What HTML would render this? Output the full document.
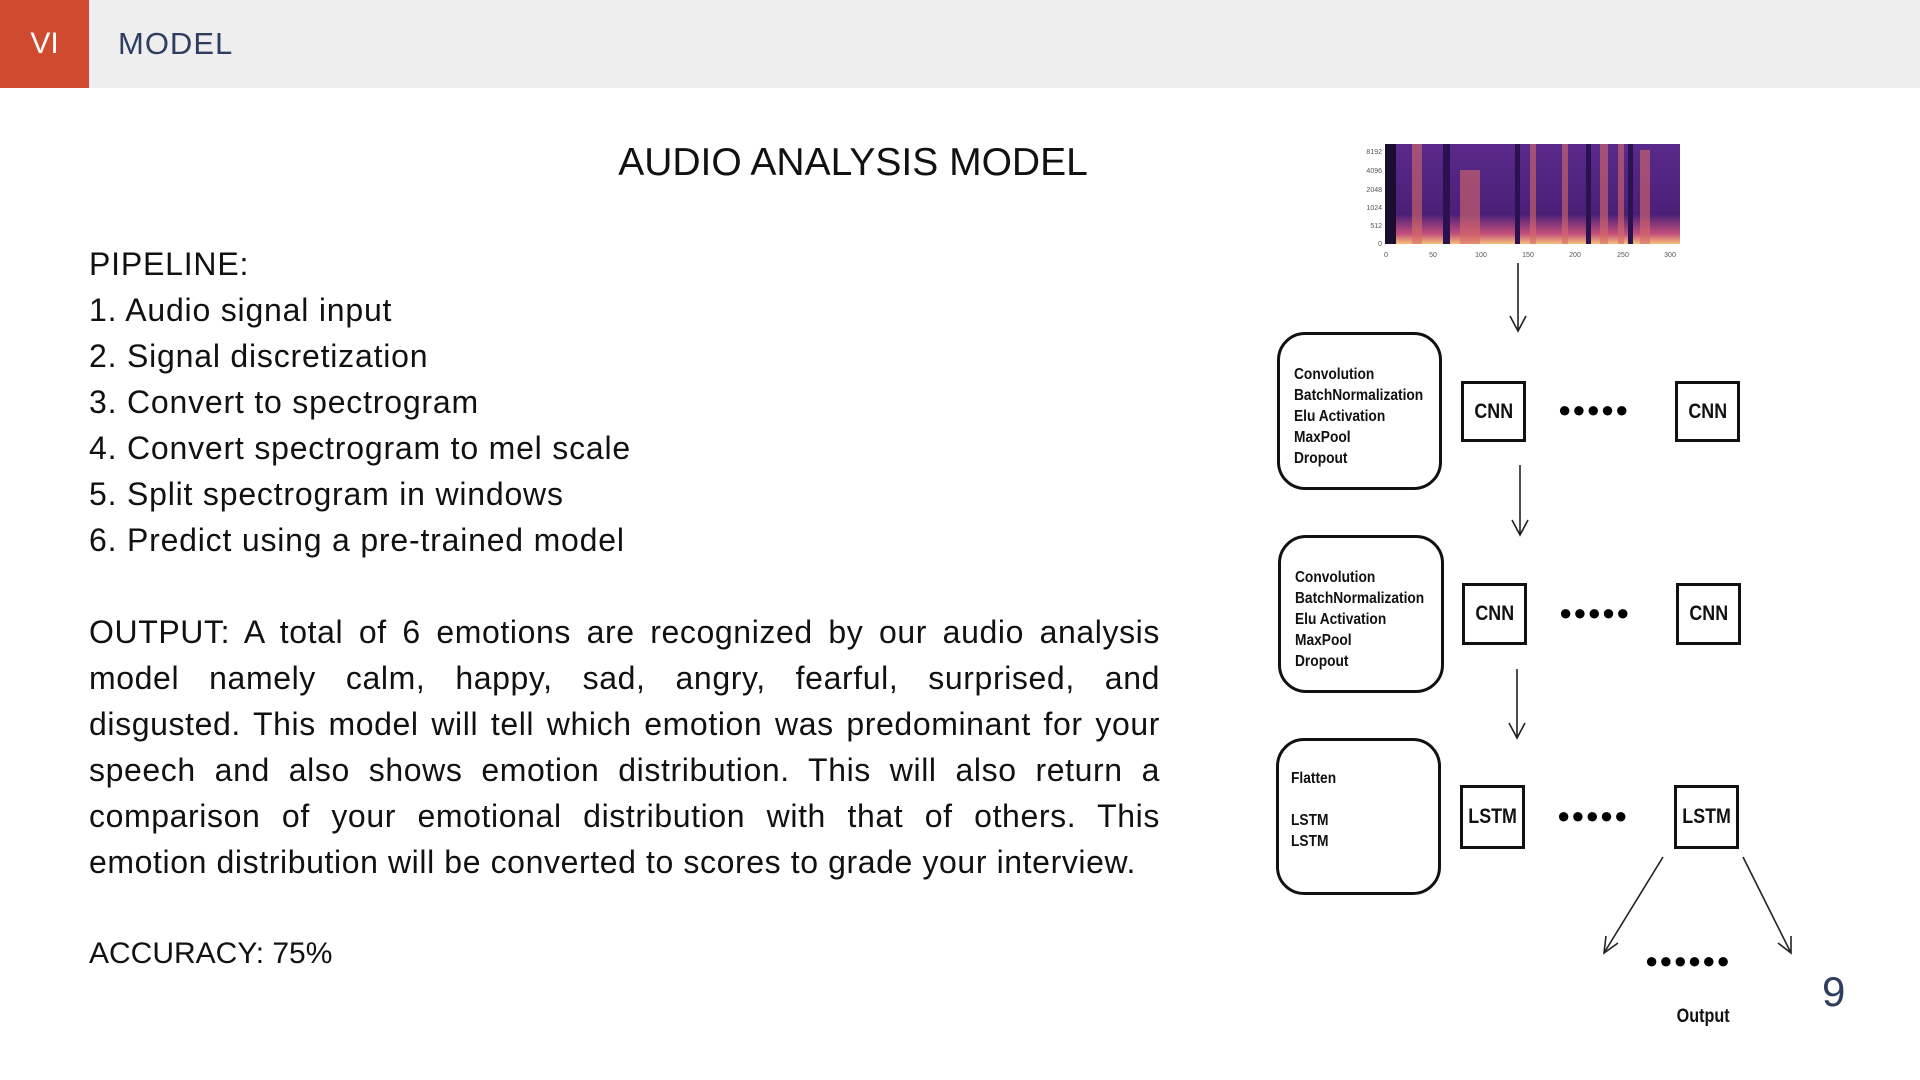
<!DOCTYPE html>
<html><head><meta charset="utf-8">
<style>
body{margin:0;width:1920px;height:1080px;background:#fff;position:relative;overflow:hidden;font-family:"Liberation Sans",sans-serif;}
.abs{position:absolute;}
.txt{font-size:32px;letter-spacing:0.8px;color:#111;}
.para{left:89px;top:609px;width:1071px;font-size:32px;letter-spacing:0.6px;line-height:46px;color:#111;}
.para div{text-align:justify;text-align-last:justify;white-space:nowrap;}
.para div.last{text-align-last:left;}
.rbox{position:absolute;border:3px solid #111;border-radius:28px;box-sizing:border-box;background:#fff;}
.rbox div{font-size:16px;line-height:21px;color:#111;font-weight:bold;transform:scaleX(0.86);transform-origin:left;}
.sq{position:absolute;border:3px solid #111;box-sizing:border-box;display:flex;align-items:center;justify-content:center;font-size:21px;color:#111;}
.sq span{transform:scaleX(0.85);display:inline-block;font-weight:bold;}
.dots{position:absolute;font-size:22px;letter-spacing:1px;color:#000;}
</style></head><body>
<div class="abs" style="left:0;top:0;width:1920px;height:88px;background:#eeeeee;"></div>
<div class="abs" style="left:0;top:0;width:89px;height:88px;background:#cf4a2f;color:#fff;font-size:30px;line-height:88px;text-align:center;">VI</div>
<div class="abs" style="left:118px;top:0;line-height:88px;font-size:31px;letter-spacing:1px;color:#2d3e5e;">MODEL</div>
<div class="abs" style="left:553px;width:600px;top:141px;text-align:center;font-size:39px;color:#111;">AUDIO ANALYSIS MODEL</div>
<div class="abs txt" style="left:89px;top:241px;line-height:46px;">
PIPELINE:<br>1. Audio signal input<br>2. Signal discretization<br>3. Convert to spectrogram<br>4. Convert spectrogram to mel scale<br>5. Split spectrogram in windows<br>6. Predict using a pre-trained model</div>
<div class="abs para">
<div>OUTPUT: A total of 6 emotions are recognized by our audio analysis</div>
<div>model namely calm, happy, sad, angry, fearful, surprised, and</div>
<div>disgusted. This model will tell which emotion was predominant for your</div>
<div>speech and also shows emotion distribution. This will also return a</div>
<div>comparison of your emotional distribution with that of others. This</div>
<div class="last">emotion distribution will be converted to scores to grade your interview.</div>
</div>
<div class="abs" style="left:89px;top:937px;font-size:30px;color:#111;">ACCURACY: 75%</div>

<svg class="abs" style="left:1350px;top:140px" width="350" height="125">
<defs><linearGradient id="g" x1="0" y1="0" x2="0" y2="1"><stop offset="0" stop-color="#5a2a8a"/><stop offset="0.7" stop-color="#4a1f78"/><stop offset="0.9" stop-color="#c2507a"/><stop offset="1" stop-color="#f7c17a"/></linearGradient></defs>
<rect x="35" y="4" width="295" height="100" fill="url(#g)"/>
<rect x="35" y="4" width="11" height="100" fill="#1a0d2e"/>
<g fill="#d86a6a" opacity="0.6">
<rect x="62" y="4" width="10" height="100"/><rect x="110" y="30" width="20" height="74"/><rect x="180" y="4" width="6" height="100"/><rect x="212" y="4" width="6" height="100"/><rect x="250" y="4" width="8" height="100"/><rect x="268" y="4" width="6" height="100"/><rect x="290" y="10" width="10" height="94"/></g>
<g fill="#2a1250"><rect x="93" y="4" width="7" height="100"/><rect x="165" y="4" width="5" height="100"/><rect x="236" y="4" width="5" height="100"/><rect x="278" y="4" width="5" height="100"/></g>
<g font-size="7" fill="#555" text-anchor="end"><text x="32" y="14">8192</text><text x="32" y="33">4096</text><text x="32" y="52">2048</text><text x="32" y="70">1024</text><text x="32" y="88">512</text><text x="32" y="106">0</text></g>
<g font-size="7" fill="#555" text-anchor="middle"><text x="36" y="117">0</text><text x="83" y="117">50</text><text x="131" y="117">100</text><text x="178" y="117">150</text><text x="225" y="117">200</text><text x="273" y="117">250</text><text x="320" y="117">300</text></g>
</svg>

<svg class="abs" style="left:0;top:0" width="1920" height="1080" fill="none" stroke="#222" stroke-width="1.6">
<path d="M1518 263V331M1510 316L1518 331L1526 316"/>
<path d="M1520 465V535M1512 520L1520 535L1528 520"/>
<path d="M1517 669V738M1509 723L1517 738L1525 723"/>
<path d="M1663 857L1604 953M1606 936L1604 953L1618 943"/>
<path d="M1743 857L1791 953M1778 943L1791 953L1791 936"/>
</svg>

<div class="rbox" style="left:1277px;top:332px;width:165px;height:158px;padding:29px 0 0 14px;"><div>Convolution<br>BatchNormalization<br>Elu Activation<br>MaxPool<br>Dropout</div></div>
<div class="sq" style="left:1461px;top:381px;width:65px;height:61px;"><span>CNN</span></div>
<div class="dots" style="left:1558px;top:397px;">●●●●●</div>
<div class="sq" style="left:1675px;top:381px;width:65px;height:61px;"><span>CNN</span></div>

<div class="rbox" style="left:1278px;top:535px;width:166px;height:158px;padding:29px 0 0 14px;"><div>Convolution<br>BatchNormalization<br>Elu Activation<br>MaxPool<br>Dropout</div></div>
<div class="sq" style="left:1462px;top:583px;width:65px;height:62px;"><span>CNN</span></div>
<div class="dots" style="left:1559px;top:600px;">●●●●●</div>
<div class="sq" style="left:1676px;top:583px;width:65px;height:62px;"><span>CNN</span></div>

<div class="rbox" style="left:1276px;top:738px;width:165px;height:157px;padding:27px 0 0 12px;"><div>Flatten<br><br>LSTM<br>LSTM</div></div>
<div class="sq" style="left:1460px;top:785px;width:65px;height:64px;"><span>LSTM</span></div>
<div class="dots" style="left:1557px;top:803px;">●●●●●</div>
<div class="sq" style="left:1674px;top:785px;width:65px;height:64px;"><span>LSTM</span></div>
<div class="dots" style="left:1645px;top:948px;">●●●●●●</div>
<div class="abs" style="left:1672px;top:1006px;font-size:19px;color:#111;font-weight:bold;transform:scaleX(0.85);">Output</div>
<div class="abs" style="left:1822px;top:968px;font-size:42px;color:#2d3e5e;">9</div>
</body></html>
